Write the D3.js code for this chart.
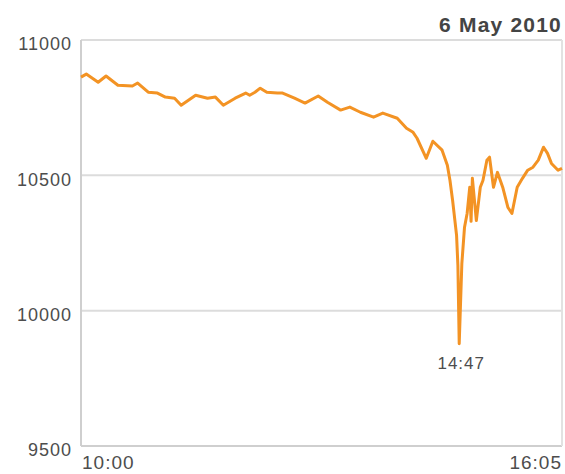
<!DOCTYPE html>
<html>
<head>
<meta charset="utf-8">
<script src="https://cdn.jsdelivr.net/npm/d3@7"></script>
<style>
  body { margin: 0; background: #fff; }
  text { font-family: "Liberation Sans", Arial, sans-serif; }
</style>
</head>
<body>
<div id="chart"></div>
<script>
// Dow Jones intraday, 6 May 2010
const times = ["10:00","10:04","10:13","10:19","10:28","10:39","10:43","10:51","10:58","11:04",
  "11:11","11:16","11:27","11:36","11:42","11:48","11:57","12:05","12:08","12:12",
  "12:16","12:21","12:29","12:33","12:42","12:50","13:00","13:07","13:17","13:24",
  "13:32","13:42","13:49","14:00","14:07","14:12","14:15","14:22","14:27","14:34",
  "14:38","14:40","14:42","14:45","14:46","14:47","14:49","14:51","14:53","14:55",
  "14:56","14:57","15:00","15:03","15:05","15:08","15:10","15:13","15:16","15:20",
  "15:24","15:27","15:31","15:35","15:39","15:43","15:47","15:51","15:54","15:57",
  "16:02","16:05"];
const values = [10863,10874,10844,10867,10833,10830,10841,10807,10804,10789,
  10785,10759,10796,10785,10789,10759,10785,10804,10796,10807,
  10822,10807,10804,10804,10785,10767,10793,10770,10741,10752,
  10733,10715,10730,10711,10674,10659,10637,10563,10626,10593,
  10537,10481,10407,10278,10167,9878,10174,10307,10359,10456,
  10330,10489,10333,10456,10481,10556,10567,10456,10511,10456,
  10381,10359,10456,10489,10519,10530,10556,10604,10581,10544,
  10519,10526];
const yTicks = [9500, 10000, 10500, 11000];
const xTickLabels = ["10:00", "16:05"];
const title = "6 May 2010";
const lowLabel = "14:47";

const w = 565, h = 474;
const padLeft = 81, padRight = 562, padTop = 40, padBottom = 446;
const parse = d3.timeParse("%H:%M");
const data = times.map((t, i) => ({ t: parse(t), v: values[i] }));

const svg = d3.select("#chart").append("svg")
  .attr("width", w)
  .attr("height", h);

const xScale = d3.scaleTime()
  .domain([parse(xTickLabels[0]), parse(xTickLabels[1])])
  .range([padLeft, padRight]);
const yScale = d3.scaleLinear()
  .domain([9500, 11000])
  .range([padBottom, padTop]);

// gridlines + frame
svg.append("g").selectAll("line")
  .data(yTicks)
  .enter().append("line")
  .attr("x1", padLeft).attr("x2", padRight)
  .attr("y1", d => yScale(d)).attr("y2", d => yScale(d))
  .attr("stroke", d => d === 9500 ? "#cfcfcf" : "#dcdcdc")
  .attr("stroke-width", 2);
svg.append("line")
  .attr("x1", padLeft).attr("x2", padLeft)
  .attr("y1", padTop).attr("y2", padBottom)
  .attr("stroke", "#cfcfcf").attr("stroke-width", 2);
svg.append("line")
  .attr("x1", padRight).attr("x2", padRight)
  .attr("y1", padTop).attr("y2", padBottom)
  .attr("stroke", "#e2e2e2").attr("stroke-width", 2);

const yAxis = d3.axisLeft(yScale).tickValues(yTicks).tickSize(0).tickPadding(9).tickFormat(d3.format("d"));
const ya = svg.append("g")
  .attr("transform", `translate(${padLeft}, 0)`)
  .call(yAxis);
ya.select(".domain").remove();
ya.selectAll("text")
  .attr("dy", "0.55em")
  .attr("fill", "#4d4d4d")
  .style("font-size", "18px")
  .style("letter-spacing", "1px");

svg.selectAll(".xlab")
  .data(xTickLabels)
  .enter().append("text")
  .attr("class", "xlab")
  .attr("x", d => xScale(parse(d)) + (d === xTickLabels[0] ? 1 : 0))
  .attr("y", 469)
  .attr("text-anchor", (d, i) => i === 0 ? "start" : "end")
  .attr("fill", "#4d4d4d")
  .style("font-size", "19px")
  .style("letter-spacing", "1px")
  .text(d => d);

svg.append("text")
  .attr("x", padRight)
  .attr("y", 32)
  .attr("text-anchor", "end")
  .attr("fill", "#444")
  .style("font-size", "21px")
  .style("font-weight", "bold")
  .style("letter-spacing", "1.2px")
  .text(title);

const line = d3.line()
  .x(d => xScale(d.t))
  .y(d => yScale(d.v));
svg.append("path")
  .datum(data)
  .attr("d", line)
  .attr("fill", "none")
  .attr("stroke", "#f39324")
  .attr("stroke-width", 3)
  .attr("stroke-linejoin", "round");

const low = data.find(d => d.t.getTime() === parse(lowLabel).getTime());
svg.append("text")
  .attr("x", xScale(low.t) + 2)
  .attr("y", yScale(low.v) + 25)
  .attr("text-anchor", "middle")
  .attr("fill", "#4d4d4d")
  .style("font-size", "17px")
  .style("letter-spacing", "1px")
  .text(lowLabel);
</script>
</body>
</html>
